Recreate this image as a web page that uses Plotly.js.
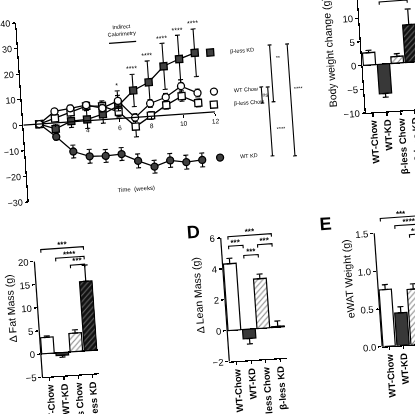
<!DOCTYPE html>
<html><head><meta charset="utf-8">
<script src="https://cdn.plot.ly/plotly-3.0.1.min.js"></script>
<style>
html,body{margin:0;padding:0;width:415px;height:414px;overflow:hidden;background:#fff;}
#wrap{position:absolute;left:0;top:0;width:415px;height:414px;transform:rotate(-4deg);transform-origin:207px 207px;filter:grayscale(1);}
#chart{position:absolute;left:-20px;top:-20px;width:480px;height:460px;}
</style></head><body><div id="wrap"><div id="chart"></div></div>
<script>
// ---------- Panel A: % body weight change over time ----------
const weeks = [1,2,3,4,5,6,7,8,9,10,11];
const wtChow    = [0, 4.5, 5.3, 6.1, 4.5, 6.9, -0.1, 5.0, 7.0, 10.9, 7.8];
const wtChowErr = [0, 1.0, 1.2, 1.2, 1.5, 3.9, 1.5, 1.5, 1.5, 2.5, 1.5];
const blChow    = [0, 1.8, 3.7, 5.7, 5.3, 2.6, -3.6, 0.3, 3.9, 7.0, 3.9];
const blChowErr = [0, 1.0, 1.2, 1.5, 2.0, 2.0, 4.0, 1.5, 1.5, 2.0, 1.5];
const wtKD      = [0, -5.4, -11.6, -13.9, -14.2, -13.9, -17.0, -19.7, -17.7, -18.8, -18.4];
const wtKDErr   = [0, 1.2, 2.5, 2.7, 2.5, 2.5, 2.7, 2.5, 2.7, 2.7, 2.7];
const blKD      = [0, -2.3, 0.3, 0.5, 2.1, 5.0, 10.5, 13.3, 19.1, 21.5, 23.5];
const blKDErr   = [0, 1.5, 2.5, 3.5, 3.5, 4.0, 6.3, 8.3, 9.0, 9.3, 9.3];
const sigWeeks  = [6, 7, 8, 9, 10, 11];
const sigLabels = ['*', '****', '****', '****', '****', '****'];
const calorimetryWeeks = [5.7, 7.4];
const xTickVals = [2, 4, 6, 8, 10, 12];
const xTickText = ['', '4', '6', '8', '10', '12'];
const yTickVals = [-30, -20, -10, 0, 10, 20, 30, 40];
// end-point comparison brackets (week position, low %, high %, label)
const endBrkX   = [15.0, 15.4, 15.7, 16.8];
const endBrkLo  = [2.1, -18.7, 2.3, -19.3];
const endBrkHi  = [8.4, 8.2, 24.5, 24.4];
const endBrkTxt = ['ns', '****', '**', '****'];
const endBrkTxtX = [15.22, 16.05, 16.2, 17.3];
const endBrkTxtY = [5.2, -8.5, 19.2, 7.0];

// ---------- Bar panels ----------
const groups = ['WT-Chow', 'WT-KD', 'β-less Chow', 'β-less KD'];
const bwChange    = [2.6, -6.2, 1.4, 7.9];
const bwChangeErr = [0.5, 0.8, 0.6, 3.3];
const fatMass     = [3.5, -0.6, 4.0, 15.0];
const fatMassErr  = [0.3, 0.4, 0.7, 3.5];
const leanMass    = [4.3, -0.6, 3.2, 0.05];
const leanMassErr = [0.35, 0.35, 0.3, 0.35];
const ewat        = [0.75, 0.43, 0.73, null];
const ewatErr     = [0.065, 0.08, 0.07, null];
// significance brackets: from group, to group, level, label
const bwSigFrom = [1], bwSigTo = [3], bwSigLvl = [13.1], bwSigTxt = ['****'];
const fatSigFrom = [0, 1, 2], fatSigTo = [3, 3, 3], fatSigLvl = [22.5, 20.4, 18.7], fatSigTxt = ['***', '****', '***'];
const leanSigFrom = [0, 0, 1, 2], leanSigTo = [3, 1, 2, 3], leanSigLvl = [6.05, 5.43, 4.76, 5.4], leanSigTxt = ['***', '***', '***', '***'];
const ewatSigFrom = [0, 1, 2], ewatSigTo = [3, 3, 3], ewatSigLvl = [1.69, 1.58, 1.45], ewatSigTxt = ['***', '****', '***'];

// ---------- helpers / geometry ----------
const F = 'Liberation Sans, Arial, sans-serif';
const W = 480, H = 460, OFF = 20;
const X = px => (px + OFF) / W;
const Y = py => 1 - (py + OFF) / H;
const BLACK = '#000';

const traces = [];
function lineTrace(y) {
  return {x: weeks, y: y, mode: 'lines', line: {color: BLACK, width: 1.3}, showlegend: false, xaxis: 'x', yaxis: 'y', hoverinfo: 'skip'};
}
function markTrace(name, y, err, symbol, fill, legend) {
  return {x: weeks, y: y, name: name, mode: 'markers', legend: legend, xaxis: 'x', yaxis: 'y',
    marker: {symbol: symbol, size: 7, color: fill, line: {color: BLACK, width: 1.3}},
    error_y: {type: 'data', array: err, visible: true, color: BLACK, thickness: 1.1, width: 2.5}};
}
traces.push(lineTrace(wtKD), lineTrace(blKD), lineTrace(wtChow), lineTrace(blChow));
traces.push(markTrace('WT KD', wtKD, wtKDErr, 'circle', '#404040', 'legend4'));
traces.push(markTrace('β-less KD', blKD, blKDErr, 'square', '#404040', 'legend'));
traces.push(markTrace('β-less Chow', blChow, blChowErr, 'square', '#fff', 'legend3'));
traces.push(markTrace('WT Chow', wtChow, wtChowErr, 'circle', '#fff', 'legend2'));

// bar styles per group
const barColors = ['#ffffff', '#383838', '#ffffff', '#111111'];
const barShapes = ['', '', '/', '/'];
const barHatch  = ['#000', '#000', '#8a8a8a', '#666666'];
function barTraces(vals, errs, n) {
  groups.forEach((g, i) => {
    const v = vals[i];
    if (v == null) return;
    traces.push({type: 'bar', x: [i], y: [v], name: g, xaxis: 'x' + n, yaxis: 'y' + n, showlegend: false,
      marker: {color: barColors[i], line: {color: BLACK, width: 1.2},
        pattern: {shape: barShapes[i], fgcolor: barHatch[i], fgopacity: 1, size: 4, solidity: 0.28, fillmode: 'overlay'}},
      error_y: {type: 'data', symmetric: false, visible: true, color: BLACK, thickness: 1.2, width: 3,
        array: [v >= 0 ? errs[i] : 0], arrayminus: [v < 0 ? errs[i] : 0]}});
  });
}
barTraces(bwChange, bwChangeErr, 2);
barTraces(fatMass, fatMassErr, 3);
barTraces(leanMass, leanMassErr, 4);
barTraces(ewat, ewatErr, 5);

const shapes = [];
const annotations = [];

// main x-axis line (0..12 at y=0)
shapes.push({type: 'line', xref: 'x', yref: 'y', x0: 0, x1: xTickVals[xTickVals.length - 1], y0: 0, y1: 0, line: {color: BLACK, width: 1.2}});
// indirect calorimetry bar
shapes.push({type: 'line', xref: 'x', yref: 'y', x0: calorimetryWeeks[0], x1: calorimetryWeeks[1], y0: 29.5, y1: 29.5, line: {color: BLACK, width: 1.3}});
annotations.push({xref: 'x', yref: 'y', x: (calorimetryWeeks[0] + calorimetryWeeks[1]) / 2, y: 31, yanchor: 'bottom', showarrow: false,
  text: 'Indirect<br>Calorimetry', font: {family: F, size: 5.5, color: BLACK}});
annotations.push({xref: 'x', yref: 'y', x: 6.75, y: -28, showarrow: false, text: 'Time  (weeks)', font: {family: F, size: 6, color: BLACK}});
// stars above time points
sigWeeks.forEach((w, k) => {
  const i = weeks.indexOf(w);
  const top = Math.max(wtChow[i] + wtChowErr[i], blChow[i] + blChowErr[i], wtKD[i] + wtKDErr[i], blKD[i] + blKDErr[i]);
  annotations.push({xref: 'x', yref: 'y', x: w, y: top, yanchor: 'bottom', yshift: 0, showarrow: false,
    text: sigLabels[k], font: {family: F, size: 7, color: BLACK}});
});
// end brackets
const cap = 0.12;
endBrkX.forEach((x, k) => {
  const lo = endBrkLo[k], hi = endBrkHi[k];
  shapes.push({type: 'path', xref: 'x', yref: 'y', line: {color: BLACK, width: 1.1},
    path: `M${x - cap},${hi} L${x + cap},${hi} M${x},${hi} L${x},${lo} M${x - cap},${lo} L${x + cap},${lo}`});
  annotations.push({xref: 'x', yref: 'y', x: endBrkTxtX[k], y: endBrkTxtY[k], showarrow: false,
    text: endBrkTxt[k], font: {family: F, size: 5.5, color: BLACK}});
});

// bar-panel significance brackets
function sigBrackets(n, from, to, lvl, txt, span) {
  const drop = span * 0.022;
  from.forEach((a, k) => {
    const b = to[k], h = lvl[k];
    shapes.push({type: 'path', xref: 'x' + n, yref: 'y' + n, line: {color: BLACK, width: 1.1},
      path: `M${a},${h - drop} L${a},${h} L${b},${h} L${b},${h - drop}`});
    annotations.push({xref: 'x' + n, yref: 'y' + n, x: (a + b) / 2, y: h, yanchor: 'bottom', yshift: -3, showarrow: false,
      text: txt[k], font: {family: F, size: 8, color: BLACK, weight: 'bold'}});
  });
}
sigBrackets(2, bwSigFrom, bwSigTo, bwSigLvl, bwSigTxt, 26.5);
sigBrackets(3, fatSigFrom, fatSigTo, fatSigLvl, fatSigTxt, 30.5);
sigBrackets(4, leanSigFrom, leanSigTo, leanSigLvl, leanSigTxt, 8.8);
sigBrackets(5, ewatSigFrom, ewatSigTo, ewatSigLvl, ewatSigTxt, 1.85);

// vertical axis lines for panels whose range extends above the top tick
function yLine(n, y0, y1) {
  shapes.push({type: 'line', xref: 'x' + n + ' domain', x0: 0, x1: 0, yref: 'y' + n, y0: y0, y1: y1, line: {color: BLACK, width: 1.2}});
}
yLine(3, -5, 20);
yLine(4, -2, 6);
yLine(5, 0, 1.5);

// panel letters
annotations.push({xref: 'paper', yref: 'paper', x: X(191), y: Y(231), showarrow: false, text: 'D', font: {family: F, size: 18, color: BLACK, weight: 'bold'}});
annotations.push({xref: 'paper', yref: 'paper', x: X(331.5), y: Y(232), showarrow: false, text: 'E', font: {family: F, size: 18, color: BLACK, weight: 'bold'}});

// axes
const mainYDom = [Y(189.5), Y(10)];
const zeroPos = mainYDom[0] + (0 - (-30)) / 70 * (mainYDom[1] - mainYDom[0]);
const tickFont = {family: F, size: 9.5, color: BLACK};
function barX(dom, anchor) {
  return {domain: dom, anchor: anchor, range: [-0.5, 3.5], tickvals: [0, 1, 2, 3], ticktext: groups, tickangle: -90,
    showline: true, linecolor: BLACK, linewidth: 1.2, ticks: 'outside', ticklen: 3, tickcolor: BLACK, tickwidth: 1.2,
    showgrid: false, zeroline: false, tickfont: {family: F, size: 9.5, color: BLACK, weight: 'bold'}, fixedrange: true};
}
function barY(dom, anchor, range, tv, title, showline, zl, fmt) {
  return {domain: dom, anchor: anchor, range: range, tickvals: tv, tickformat: fmt || '', showline: showline,
    linecolor: BLACK, linewidth: 1.2, ticks: 'outside', ticklen: 3, tickcolor: BLACK, tickwidth: 1.2, showgrid: false,
    zeroline: zl, zerolinecolor: BLACK, zerolinewidth: 1.2, tickfont: tickFont,
    title: {text: title, font: {family: F, size: 10.5, color: BLACK}, standoff: 3}};
}
function legendAt(px, py) {
  return {x: X(px), y: Y(py), xanchor: 'left', yanchor: 'middle', bgcolor: 'rgba(0,0,0,0)', borderwidth: 0,
    font: {family: F, size: 5.5, color: BLACK}, itemwidth: 30, tracegroupgap: 0};
}

const layout = {
  width: W, height: H, margin: {l: 0, r: 0, t: 0, b: 0}, paper_bgcolor: '#fff', plot_bgcolor: 'rgba(0,0,0,0)',
  font: {family: F, color: BLACK}, showlegend: true, bargap: 0.12, barmode: 'overlay',
  xaxis: {domain: [X(29.5), X(325.5)], range: [0, 18.5], anchor: 'free', position: zeroPos, showline: false, showgrid: false,
    zeroline: false, tickvals: xTickVals, ticktext: xTickText, ticks: 'outside', ticklen: 3, tickcolor: BLACK, tickwidth: 1,
    tickfont: {family: F, size: 6.5, color: BLACK}},
  yaxis: {domain: mainYDom, range: [-30, 40], anchor: 'x', showline: true, linecolor: BLACK, linewidth: 1.2, ticks: 'outside',
    ticklen: 3, tickcolor: BLACK, tickwidth: 1.2, tickvals: yTickVals, showgrid: false, zeroline: false,
    tickfont: {family: F, size: 9, color: BLACK}, title: {text: '% Body Weight Change', font: {family: F, size: 7, color: BLACK}, standoff: 2}},
  xaxis2: barX([X(372), X(428)], 'y2'),
  yaxis2: barY([Y(124.2), Y(-1.7)], 'x2', [-10, 16.5], [-10, -5, 0, 5, 10, 15], 'Body weight change (g)', true, true),
  xaxis3: barX([X(31), X(88)], 'y3'),
  yaxis3: barY([Y(365.2), Y(224)], 'x3', [-5, 25.5], [-5, 0, 5, 10, 15, 20], 'Δ Fat Mass (g)', false, true),
  xaxis4: barX([X(218.5), X(276.5)], 'y4'),
  yaxis4: barY([Y(362.8), Y(226.4)], 'x4', [-2, 6.8], [-2, 0, 2, 4, 6], 'Δ Lean Mass (g)', false, true),
  xaxis5: barX([X(372), X(428)], 'y5'),
  yaxis5: barY([Y(358.6), Y(218.4)], 'x5', [0, 1.85], [0, 0.5, 1, 1.5], 'eWAT Weight (g)', false, false, '.1f'),
  legend: legendAt(201, 53.1),
  legend2: legendAt(202, 92.3),
  legend3: legendAt(201, 105.3),
  legend4: legendAt(203.5, 158.6),
  shapes: shapes,
  annotations: annotations
};

Plotly.newPlot('chart', traces, layout, {staticPlot: true, displayModeBar: false});
</script>
</body></html>
